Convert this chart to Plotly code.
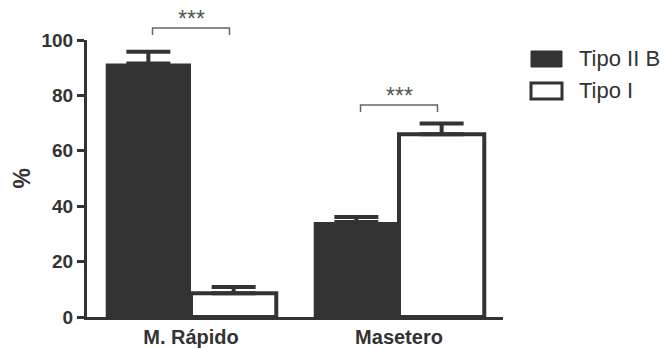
import plotly.graph_objects as go

# ---- data ----
categories = ["M. Rápido", "Masetero"]
series_names = ["Tipo II B", "Tipo I"]
tipo_iib = [91.5, 34.3]
tipo_iib_err = [4.3, 1.8]
tipo_i = [8.6, 66.0]
tipo_i_err = [2.2, 3.9]
sig_labels = ["***", "***"]
sig_heights = [104.3, 76.5]
y_ticks = [0, 20, 40, 60, 80, 100]

DARK = "#333333"
Y_MAX = 100

fig = go.Figure()
fig.add_trace(go.Bar(
    x=categories, y=tipo_iib, name=series_names[0],
    marker=dict(color=DARK, line=dict(color=DARK, width=0)),
    error_y=dict(type="data", array=tipo_iib_err, arrayminus=[0, 0], symmetric=False,
                 color=DARK, thickness=4, width=22),
))
fig.add_trace(go.Bar(
    x=categories, y=tipo_i, name=series_names[1],
    marker=dict(color="white", line=dict(color=DARK, width=4)),
    error_y=dict(type="data", array=tipo_i_err, arrayminus=[0, 0], symmetric=False,
                 color=DARK, thickness=4, width=22),
))

L, R, T, B = 87, 164, 40, 32
W, H = 667, 349
pw, ph = W - L - R, H - T - B

def px_x(px):
    return (px - L) / pw

def px_y(py):
    return (H - B - py) / ph

shapes = []
annotations = []
for i, (lab, h) in enumerate(zip(sig_labels, sig_heights)):
    yp = h / Y_MAX
    drop = 7 / ph
    x0, x1 = i - 0.185, i + 0.185
    shapes.append(dict(type="path", xref="x", yref="paper",
                       path=f"M {x0},{yp - drop} L {x0},{yp} L {x1},{yp} L {x1},{yp - drop}",
                       line=dict(color="#666666", width=1.5)))
    annotations.append(dict(x=i, y=yp - 6 / ph, xref="x", yref="paper", text=lab,
                            showarrow=False, yanchor="bottom", xanchor="center",
                            font=dict(family="Liberation Sans", size=23, color="#555555")))

# legend drawn manually
leg_rows = [(59, DARK, 0), (91, "white", 3)]
for (cy, fill, lw), name in zip(leg_rows, series_names):
    shapes.append(dict(type="rect", xref="paper", yref="paper",
                       x0=px_x(531), x1=px_x(562), y0=px_y(cy + 8), y1=px_y(cy - 8),
                       fillcolor=fill, line=dict(color=DARK, width=lw if lw else 1)))
    annotations.append(dict(x=px_x(577), y=px_y(cy), xref="paper", yref="paper", text=name,
                            showarrow=False, xanchor="left", yanchor="middle",
                            font=dict(family="Liberation Sans", size=22, color=DARK)))

annotations.append(dict(x=px_x(21), y=0.5, xref="paper", yref="paper", text="%",
                        textangle=-90, showarrow=False, xanchor="center", yanchor="middle",
                        font=dict(family="Liberation Sans", size=23, color=DARK, weight="bold")))

fig.update_layout(
    width=W, height=H,
    margin=dict(l=L, r=R, t=T, b=B, autoexpand=False),
    plot_bgcolor="white", paper_bgcolor="white",
    barmode="group", bargap=0.18, bargroupgap=0,
    showlegend=False,
    shapes=shapes, annotations=annotations,
    xaxis=dict(range=[-0.5, 1.5], showline=True, linecolor=DARK, linewidth=3,
               ticks="", showgrid=False, zeroline=False,
               tickfont=dict(family="Liberation Sans", size=20, color=DARK, weight="bold")),
    yaxis=dict(range=[0, Y_MAX], tickvals=y_ticks, showline=True, linecolor=DARK, linewidth=3,
               ticks="outside", ticklen=7, tickwidth=3, tickcolor=DARK,
               showgrid=False, zeroline=False,
               tickfont=dict(family="Liberation Sans", size=19, color=DARK, weight="bold")),
)

fig.write_html("out.html")
